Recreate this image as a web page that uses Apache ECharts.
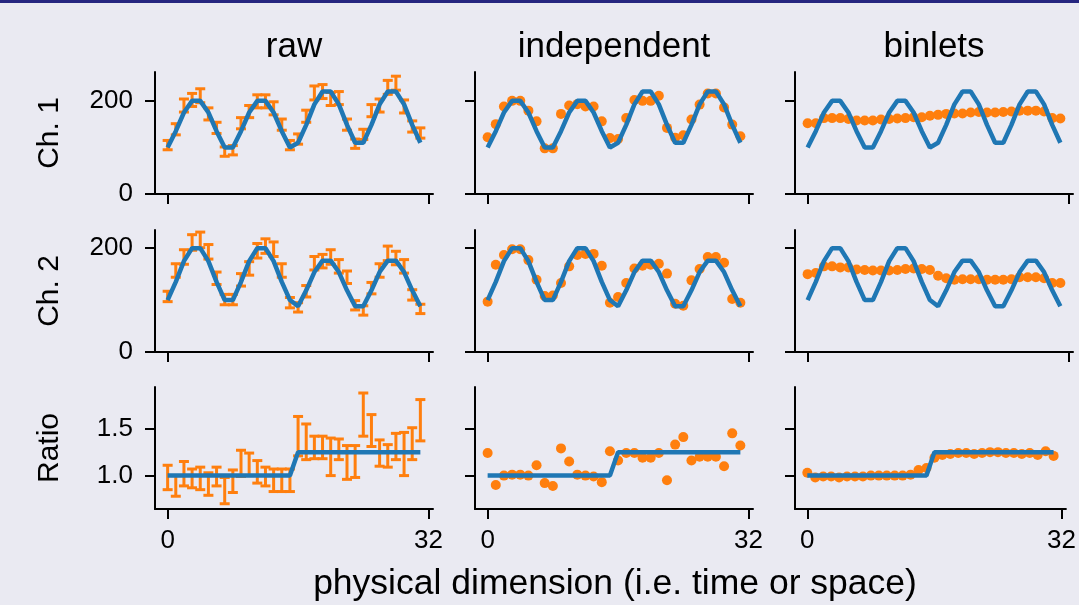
<!DOCTYPE html>
<html>
<head>
<meta charset="utf-8">
<script src="https://cdn.jsdelivr.net/npm/echarts@6/dist/echarts.min.js"></script>
<style>
html,body{margin:0;padding:0;background:#eaeaf2;}
#chart{width:1079px;height:605px;}
</style>
</head>
<body>
<div id="chart"></div>
<script>
// ---------- data ----------
const xPos = [0,1,2,3,4,5,6,7,8,9,10,11,12,13,14,15,16,17,18,19,20,21,22,23,24,25,26,27,28,29,30,31];
const colTitles = ['raw', 'independent', 'binlets'];
const rowNames = ['Ch. 1', 'Ch. 2', 'Ratio'];
const xTicks = [0, 32];
const countTicks = [0, 200];
const ratioTicks = [1.0, 1.5];
const xLabelText = 'physical dimension (i.e. time or space)';

// true signals (blue lines)
const truthCh1 = [100,135,175,200,200,175,135,100,100,135,175,200,200,175,135,100,
                  110,148.5,192.5,220,220,192.5,148.5,110,110,148.5,192.5,220,220,192.5,148.5,110];
const truthCh2 = [100,135,175,200,200,175,135,100,100,135,175,200,200,175,135,100,
                  88,118.8,154,176,176,154,118.8,88,88,118.8,154,176,176,154,118.8,88];
const truthRatio = [1,1,1,1,1,1,1,1,1,1,1,1,1,1,1,1,
                    1.25,1.25,1.25,1.25,1.25,1.25,1.25,1.25,1.25,1.25,1.25,1.25,1.25,1.25,1.25,1.25];

// raw measurements with error bars
const rawCh1 = [105,139,190,202,211,172,142,91,94,152,177,199,199,184,149,105,
                118,167,217,220,204,206,149,108,128,179,190,229,238,188,145,131];
const rawCh1Err = [10,12,14,14,15,13,12,10,10,12,13,14,14,14,12,10,
                   11,13,15,15,14,14,12,10,11,13,14,15,15,14,12,11];
const rawCh2 = [107,157,183,211,216,193,142,101,101,139,161,195,204,198,157,95,
                86,117,171,175,183,165,144,90,80,123,157,190,181,165,110,83];
const rawCh2Err = [10,13,14,15,15,14,12,10,10,12,13,14,14,14,13,10,
                   9,11,13,13,14,13,12,9,9,11,13,14,13,13,10,9];
const rawRatio = [0.98,0.89,1.02,0.97,0.97,0.91,0.99,0.84,0.94,1.13,1.12,1.04,0.99,0.95,0.95,0.95,
                  1.42,1.36,1.30,1.30,1.20,1.28,1.14,1.15,1.65,1.48,1.24,1.21,1.31,1.23,1.34,1.59];
const rawRatioErr = [0.13,0.11,0.13,0.10,0.12,0.12,0.10,0.14,0.12,0.14,0.12,0.12,0.10,0.12,0.12,0.12,
                     0.21,0.19,0.12,0.12,0.20,0.11,0.18,0.17,0.23,0.17,0.14,0.12,0.14,0.23,0.17,0.22];

// independent estimates
const indCh1 = [122,150,188,200,200,179,156,98,98,172,190,193,188,188,156,120,
                118,163,202,200,200,211,142,121,126,160,192,216,216,186,149,124];
const indCh2 = [97,168,187,198,198,177,139,108,109,133,165,187,189,189,166,95,
                106,133,161,166,168,170,151,93,89,138,160,183,183,172,102,95];
const indRatio = [1.24,0.90,1.00,1.01,1.01,1.00,1.11,0.92,0.89,1.29,1.15,1.01,1.00,0.99,0.93,1.26,
                  1.16,1.24,1.24,1.19,1.19,1.24,0.95,1.33,1.41,1.16,1.20,1.20,1.20,1.10,1.45,1.32];

// binlets estimates
const binCh1 = [152,152,163,163,163,161,158,158,158,160,161,162,163,165,165,168,
                170,172,173,173,175,176,175,175,176,177,179,179,179,177,163,162];
const binCh2 = [150,152,165,165,163,163,159,158,157,157,157,158,160,161,160,158,
                147,142,139,140,140,140,139,139,139,140,144,144,144,142,133,133];
const binRatio = [1.03,0.98,0.99,0.99,0.98,0.99,0.99,0.99,1.00,1.00,1.00,1.00,1.00,1.01,1.06,1.08,
                  1.19,1.22,1.23,1.24,1.24,1.23,1.24,1.25,1.25,1.24,1.24,1.23,1.24,1.22,1.26,1.21];

// ---------- layout / style ----------
const BLUE = '#1f77b4', ORANGE = '#ff7f0e';
const FONT = 'Liberation Sans, Arial, sans-serif';
const colLeft = [155, 475, 795];
const rowTop = [72, 230, 387];
const gridW = 278, gridH = 122;
const yRanges = [[0, 262], [0, 235], [0.644, 1.944]];

const truths = [truthCh1, truthCh2, truthRatio];
const methods = [
  {type: 'err', data: [[rawCh1, rawCh1Err], [rawCh2, rawCh2Err], [rawRatio, rawRatioErr]]},
  {type: 'dot', data: [indCh1, indCh2, indRatio]},
  {type: 'dot', data: [binCh1, binCh2, binRatio]}
];

function errRender(params, api) {
  const x = api.value(0), lo = api.value(1), hi = api.value(2);
  const a = api.coord([x, hi]), b = api.coord([x, lo]);
  const cap = 5;
  const st = {stroke: ORANGE, lineWidth: 3, fill: null};
  return {type: 'group', children: [
    {type: 'line', shape: {x1: a[0], y1: a[1], x2: b[0], y2: b[1]}, style: st},
    {type: 'line', shape: {x1: a[0] - cap, y1: a[1], x2: a[0] + cap, y2: a[1]}, style: st},
    {type: 'line', shape: {x1: b[0] - cap, y1: b[1], x2: b[0] + cap, y2: b[1]}, style: st}
  ]};
}

const grids = [], xAxes = [], yAxes = [], series = [];
let k = 0;
for (let r = 0; r < 3; r++) {
  for (let c = 0; c < 3; c++) {
    grids.push({left: colLeft[c], top: rowTop[r], width: gridW, height: gridH, containLabel: false});
    xAxes.push({
      type: 'value', gridIndex: k, min: -1.55, max: 32.55,
      axisLine: {show: true, onZero: false, lineStyle: {color: '#000', width: 2}},
      axisTick: {show: true, customValues: xTicks, length: 10, lineStyle: {color: '#000', width: 2}},
      axisLabel: {show: r === 2, customValues: xTicks, fontSize: 26, color: '#000', fontFamily: FONT, margin: 19},
      splitLine: {show: false}
    });
    const isRatio = r === 2;
    const yA = {
      type: 'value', gridIndex: k, min: yRanges[r][0], max: yRanges[r][1],
      axisLine: {show: true, onZero: false, lineStyle: {color: '#000', width: 2}},
      axisTick: {show: true, customValues: isRatio ? ratioTicks : countTicks, length: 10, lineStyle: {color: '#000', width: 2}},
      axisLabel: {show: c === 0, customValues: isRatio ? ratioTicks : countTicks, fontSize: 26, color: '#000',
        fontFamily: FONT, margin: 22, formatter: v => isRatio ? Number(v).toFixed(1) : String(v)},
      splitLine: {show: false}
    };
    if (c === 0) {
      yA.name = rowNames[r];
      yA.nameLocation = 'middle';
      yA.nameGap = 90;
      yA.nameTextStyle = {fontSize: 30, color: '#000', fontFamily: FONT};
    }
    yAxes.push(yA);

    const m = methods[c];
    if (m.type === 'err') {
      const vals = m.data[r][0], errs = m.data[r][1];
      series.push({
        type: 'custom', xAxisIndex: k, yAxisIndex: k, renderItem: errRender, z: 2,
        data: xPos.map((x, i) => [x, vals[i] - errs[i], vals[i] + errs[i]]),
        encode: {x: 0, y: [1, 2]}, silent: true
      });
    } else {
      series.push({
        type: 'scatter', xAxisIndex: k, yAxisIndex: k, symbol: 'circle', symbolSize: 10, z: 2,
        itemStyle: {color: ORANGE, opacity: 1},
        data: xPos.map((x, i) => [x, m.data[r][i]]), silent: true
      });
    }
    series.push({
      type: 'line', xAxisIndex: k, yAxisIndex: k, z: 3, showSymbol: false, symbol: 'none',
      lineStyle: {color: BLUE, width: 4.5}, data: xPos.map((x, i) => [x, truths[r][i]]),
      silent: true, animation: false
    });
    k++;
  }
}

const graphics = [
  {type: 'rect', shape: {x: 0, y: 0, width: 1079, height: 3}, style: {fill: '#262680'}}
];
colTitles.forEach((t, c) => {
  graphics.push({type: 'text', x: colLeft[c] + gridW / 2, y: 47,
    style: {text: t, fontSize: 35, fontFamily: FONT, fill: '#000', align: 'center', verticalAlign: 'middle',
      textAlign: 'center', textVerticalAlign: 'middle'}});
});
graphics.push({type: 'text', x: 615, y: 584,
  style: {text: xLabelText, fontSize: 35.5, fontFamily: FONT, fill: '#000', align: 'center', verticalAlign: 'middle',
    textAlign: 'center', textVerticalAlign: 'middle'}});

const chart = echarts.init(document.getElementById('chart'), null, {renderer: 'canvas'});
chart.setOption({
  backgroundColor: '#eaeaf2',
  animation: false,
  grid: grids, xAxis: xAxes, yAxis: yAxes, series: series,
  graphic: graphics
});
</script>
</body>
</html>
